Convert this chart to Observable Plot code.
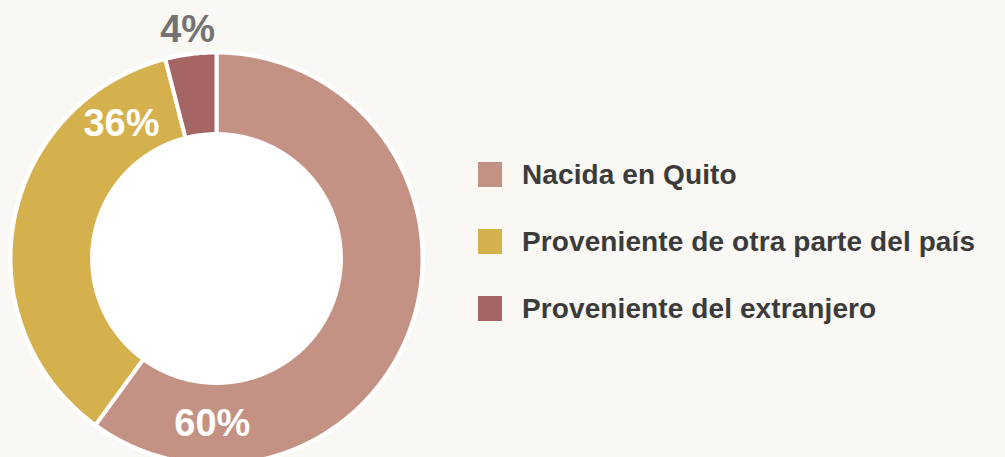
<!DOCTYPE html>
<html>
<head>
<meta charset="utf-8">
<script src="https://cdn.jsdelivr.net/npm/d3@7"></script>
<script src="https://cdn.jsdelivr.net/npm/@observablehq/plot@0.6"></script>
<style>
  html, body { margin: 0; padding: 0; background: #f9f8f4; overflow: hidden; }
  #wrap { position: relative; width: 1005px; height: 457px; overflow: hidden; font-family: "Liberation Sans", Arial, Helvetica, sans-serif; }
  #chart { position: absolute; left: 0; top: 0; }
  #legend { position: absolute; left: 478px; top: 162px; }
  .item { display: flex; align-items: center; height: 25px; margin-bottom: 42px; }
  .sw { width: 24px; height: 25px; margin-right: 20px; flex: none; }
  .lab { font-weight: bold; font-size: 28px; color: #3b3b3b; white-space: nowrap; letter-spacing: 0.1px; }
</style>
</head>
<body>
<div id="wrap">
  <div id="chart"></div>
  <div id="legend"></div>
</div>
<script>
const categories = ["Nacida en Quito", "Proveniente de otra parte del país", "Proveniente del extranjero"];
const values = [60, 36, 4];
const colors = ["#c49284", "#d5b14d", "#a66565"];

const total = d3.sum(values);
const innerRatio = 0.604;
const step = 0.5 * Math.PI / 180;

// build slice polygons (unit circle, angle clockwise from 12 o'clock)
const slices = [];
const labels = [];
let acc = 0;
categories.forEach((c, i) => {
  const a0 = acc / total * 2 * Math.PI;
  acc += values[i];
  const a1 = acc / total * 2 * Math.PI;
  const n = Math.max(2, Math.ceil((a1 - a0) / step));
  const pts = [];
  for (let k = 0; k <= n; k++) {
    const a = a0 + (a1 - a0) * k / n;
    pts.push({cat: c, x: Math.sin(a), y: Math.cos(a)});
  }
  for (let k = n; k >= 0; k--) {
    const a = a0 + (a1 - a0) * k / n;
    pts.push({cat: c, x: innerRatio * Math.sin(a), y: innerRatio * Math.cos(a)});
  }
  slices.push(...pts);
  const big = values[i] / total > 0.1;
  const la = big ? a0 + (a1 - a0) * 0.84 : (a0 + a1) / 2;
  const lr = big ? (1 + innerRatio) / 2 : 1.12;
  labels.push({x: lr * Math.sin(la), y: lr * Math.cos(la), text: values[i] + "%", inside: big});
});

// white backing disk
const disk = d3.range(0, 361, 1).map(d => {
  const a = d * Math.PI / 180;
  return {x: 1.012 * Math.sin(a), y: 1.012 * Math.cos(a)};
});

const chart = Plot.plot({
  width: 1005,
  height: 470,
  margin: 0,
  style: {background: "transparent", fontFamily: "'Liberation Sans', Arial, Helvetica, sans-serif"},
  x: {domain: [-1, 1], range: [10, 422], axis: null},
  y: {domain: [-1, 1], range: [464, 52], axis: null},
  color: {domain: categories, range: colors},
  marks: [
    Plot.line(disk, {x: "x", y: "y", fill: "white", stroke: "none", curve: "linear-closed"}),
    Plot.line(slices, {x: "x", y: "y", z: "cat", fill: "cat", stroke: "white", strokeWidth: 4, strokeLinejoin: "miter", curve: "linear-closed"}),
    Plot.text(labels, {x: "x", y: "y", text: "text", fill: d => d.inside ? "white" : "#737373",
      fontSize: 38, fontWeight: "bold", textAnchor: "middle", lineAnchor: "middle"})
  ]
});
document.getElementById("chart").appendChild(chart);

const legend = document.getElementById("legend");
categories.forEach((c, i) => {
  const row = document.createElement("div");
  row.className = "item";
  const sw = document.createElement("div");
  sw.className = "sw";
  sw.style.background = colors[i];
  const lab = document.createElement("div");
  lab.className = "lab";
  lab.textContent = c;
  row.appendChild(sw);
  row.appendChild(lab);
  legend.appendChild(row);
});
</script>
</body>
</html>
